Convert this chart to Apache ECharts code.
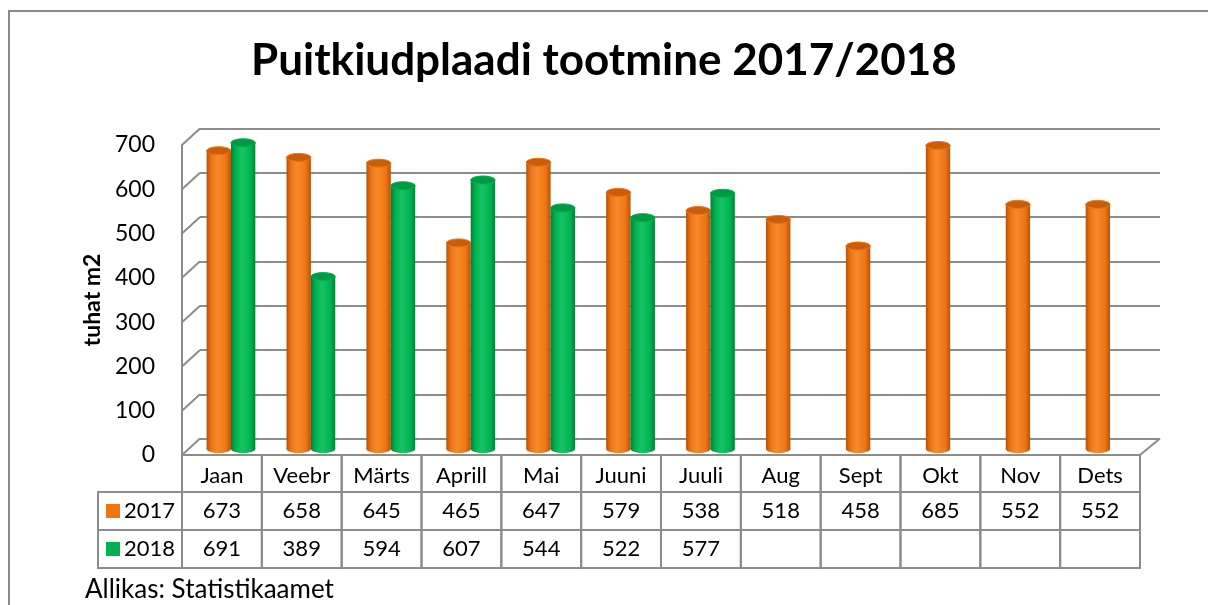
<!DOCTYPE html>
<html>
<head>
<meta charset="utf-8">
<script src="https://cdn.jsdelivr.net/npm/echarts@6/dist/echarts.min.js"></script>
<style>
  html, body { margin: 0; padding: 0; background: #fff; }
  #chart { width: 1208px; height: 605px; }
</style>
</head>
<body>
<div id="chart"></div>
<script>
const months = ['Jaan', 'Veebr', 'Märts', 'Aprill', 'Mai', 'Juuni', 'Juuli', 'Aug', 'Sept', 'Okt', 'Nov', 'Dets']
const prod2017 = [673, 658, 645, 465, 647, 579, 538, 518, 458, 685, 552, 552]
const prod2018 = [691, 389, 594, 607, 544, 522, 577, null, null, null, null, null]
const yTicks = [0, 100, 200, 300, 400, 500, 600, 700]
const seriesNames = ['2017', '2018']

const FONT = 'Lato, "Open Sans", sans-serif'
const LINE = '#8c8c8c'

// shaded cylinder colours
const ORANGE = { edge: '#b4520a', body: '#f07512', light: '#f58a2e', top: '#c95d0a' }
const GREEN = { edge: '#00823a', body: '#00b350', light: '#16c462', top: '#009a45' }

function cylinder(side, col) {
  return function (params, api) {
    const v = api.value(1)
    if (v == null || isNaN(v)) return
    const band = api.size([1, 0])[0]
    const w = band * 0.305
    const base = api.coord([api.value(0), 0])
    const top = api.coord([api.value(0), v])
    const cx = base[0] + side * w / 2
    const ry = 4
    const grad = new echarts.graphic.LinearGradient(0, 0, 1, 0, [
      { offset: 0, color: col.edge },
      { offset: 0.2, color: col.body },
      { offset: 0.45, color: col.light },
      { offset: 0.8, color: col.body },
      { offset: 1, color: col.edge }
    ])
    return {
      type: 'group',
      children: [
        { type: 'ellipse', shape: { cx: cx, cy: base[1], rx: w / 2, ry: ry }, style: { fill: grad } },
        { type: 'rect', shape: { x: cx - w / 2, y: top[1], width: w, height: base[1] - top[1] }, style: { fill: grad } },
        { type: 'ellipse', shape: { cx: cx, cy: top[1], rx: w / 2, ry: ry }, style: { fill: col.top, stroke: col.body, lineWidth: 1 } }
      ]
    }
  }
}

// left wall diagonals + right floor edge
function walls(params, api) {
  const y = api.coord([0, api.value(1)])[1]
  const cs = params.coordSys
  const children = [
    { type: 'line', shape: { x1: cs.x, y1: y, x2: cs.x + 18, y2: y - 16.5 }, style: { stroke: LINE, lineWidth: 2 } }
  ]
  if (api.value(1) === 0) {
    children.push({ type: 'line', shape: { x1: cs.x + cs.width, y1: y, x2: cs.x + cs.width + 20, y2: y - 16.5 }, style: { stroke: LINE, lineWidth: 2 } })
  }
  return { type: 'group', children: children }
}

// data table under the plot
function table(params, api) {
  const i = params.dataIndex
  const band = api.size([1, 0])[0]
  const cx = api.coord([i, 0])[0]
  const x = cx - band / 2
  const y0 = params.coordSys.y + params.coordSys.height
  const rows = [y0, y0 + 37, y0 + 75, y0 + 113]
  const txt = (t, y, xx, align) => ({
    type: 'text', x: xx, y: y,
    style: { text: t, fill: '#000', font: '22px ' + FONT, align: align || 'center', verticalAlign: 'middle' }
  })
  const cell = (xx, y, w, h) => ({
    type: 'rect', shape: { x: xx, y: y, width: w, height: h },
    style: { fill: 'none', stroke: LINE, lineWidth: 2 }
  })
  const children = [
    cell(x, rows[0], band, rows[1] - rows[0]),
    cell(x, rows[1], band, rows[2] - rows[1]),
    cell(x, rows[2], band, rows[3] - rows[2]),
    txt(months[i], (rows[0] + rows[1]) / 2 + 2, cx),
    txt(String(prod2017[i]), (rows[1] + rows[2]) / 2, cx)
  ]
  if (prod2018[i] != null) children.push(txt(String(prod2018[i]), (rows[2] + rows[3]) / 2, cx))
  if (i === 0) {
    const lx = 98
    children.push(cell(lx, rows[1], x - lx, rows[2] - rows[1]))
    children.push(cell(lx, rows[2], x - lx, rows[3] - rows[2]))
    const sq = [ORANGE.body, GREEN.body]
    for (let k = 0; k < 2; k++) {
      const my = (rows[k + 1] + rows[k + 2]) / 2
      children.push({ type: 'rect', shape: { x: lx + 8, y: my - 7, width: 14, height: 14 }, style: { fill: sq[k] } })
      children.push(txt(seriesNames[k], my, lx + 26, 'left'))
    }
  }
  return { type: 'group', children: children }
}

const chart = echarts.init(document.getElementById('chart'))

chart.setOption({
  backgroundColor: '#fff',
  animation: false,
  title: [
    {
      text: 'Puitkiudplaadi tootmine 2017/2018',
      left: 'center', top: 34, padding: [5, 5, 5, 25],
      textStyle: { fontFamily: FONT, fontSize: 44, fontWeight: 'bold', color: '#000' }
    },
    {
      text: 'Allikas: Statistikaamet',
      left: 80, top: 572,
      textStyle: { fontFamily: FONT, fontSize: 26, fontWeight: 'normal', color: '#000' }
    }
  ],
  graphic: [
    { type: 'rect', shape: { x: 9, y: 11, width: 1220, height: 640 }, style: { fill: 'none', stroke: '#8a8a8a', lineWidth: 2 }, silent: true }
  ],
  grid: [
    { left: 200, right: 48, top: 128.4, bottom: 166.4 },
    { left: 191, right: 58, top: 138.8, bottom: 156 },
    { left: 182, right: 68, top: 145, bottom: 150 }
  ],
  xAxis: [
    { gridIndex: 0, type: 'category', data: months, show: false },
    { gridIndex: 1, type: 'category', data: months, show: false },
    {
      gridIndex: 2, type: 'category', data: months,
      axisLine: { show: true, lineStyle: { color: LINE, width: 2 } },
      axisTick: { show: false }, axisLabel: { show: false }
    }
  ],
  yAxis: [
    {
      gridIndex: 0, type: 'value', min: 0, max: 700, interval: 100,
      axisLine: { show: false }, axisTick: { show: false }, axisLabel: { show: false },
      splitLine: { show: true, lineStyle: { color: LINE, width: 2 } }
    },
    { gridIndex: 1, type: 'value', min: 0, max: 700, interval: 100, show: false, splitLine: { show: false } },
    {
      gridIndex: 2, type: 'value', min: 0, max: 700, interval: 100,
      name: 'tuhat m2', nameLocation: 'middle', nameRotate: 90, nameGap: 76,
      nameTextStyle: { fontFamily: FONT, fontSize: 23, fontWeight: 'bold', color: '#000' },
      axisLine: { show: true, lineStyle: { color: LINE, width: 2 } },
      axisTick: { show: false },
      axisLabel: { fontFamily: FONT, fontSize: 23, color: '#000', margin: 27 },
      splitLine: { show: false }
    }
  ],
  series: [
    {
      name: 'walls', type: 'custom', xAxisIndex: 2, yAxisIndex: 2, clip: false, silent: true,
      data: yTicks.map(v => [0, v]), encode: { x: 0, y: 1 }, renderItem: walls
    },
    {
      name: seriesNames[0], type: 'custom', xAxisIndex: 1, yAxisIndex: 1, clip: false,
      data: prod2017.map((v, i) => [i, v]), encode: { x: 0, y: 1 }, renderItem: cylinder(-1, ORANGE), z: 3
    },
    {
      name: seriesNames[1], type: 'custom', xAxisIndex: 1, yAxisIndex: 1, clip: false,
      data: prod2018.map((v, i) => [i, v == null ? '-' : v]), encode: { x: 0, y: 1 }, renderItem: cylinder(1, GREEN), z: 3
    },
    {
      name: 'table', type: 'custom', xAxisIndex: 2, yAxisIndex: 2, clip: false, silent: true,
      data: months.map((m, i) => [i, 0]), encode: { x: 0, y: 1 }, renderItem: table
    }
  ]
})
</script>
</body>
</html>
